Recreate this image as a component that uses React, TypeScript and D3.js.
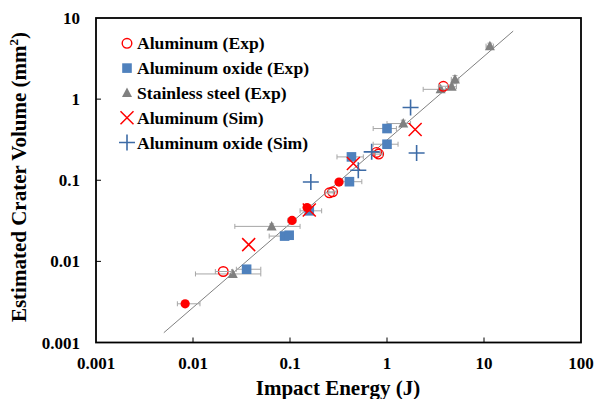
import React from 'react';
import * as d3 from 'd3';

// Aluminum (Exp) - open circles
const alExpX = [0.0205, 0.255, 0.275, 0.78, 0.82, 3.81];
const alExpY = [0.0075, 0.070, 0.072, 0.22, 0.21, 1.44];
const alExpLo = [0.017, 0.23, 0.25, 0.72, 0.76, 3.4];
const alExpHi = [0.025, 0.28, 0.30, 0.85, 0.9, 4.2];

// aluminum filled dots (not in legend)
const alDotX = [0.0083, 0.105, 0.15, 0.32];
const alDotY = [0.0030, 0.032, 0.046, 0.095];
const alDotLo = [0.0069, 0.095, 0.14, 0.3];
const alDotHi = [0.0118, 0.115, 0.16, 0.34];

// Aluminum oxide (Exp) - squares
const oxExpX = [0.0357, 0.088, 0.098, 0.158, 0.41, 0.43, 1.0, 1.0];
const oxExpY = [0.0080, 0.0205, 0.021, 0.042, 0.096, 0.194, 0.278, 0.434];
const oxExpLo = [0.028, 0.061, 0.09, 0.127, 0.35, 0.305, 0.72, 0.72];
const oxExpHi = [0.050, 0.107, 0.105, 0.212, 0.55, 0.57, 1.3, 1.25];

// Stainless steel (Exp) - triangles
const ssExpX = [0.0257, 0.0647, 1.47, 3.57, 4.64, 5.02, 11.5];
const ssExpY = [0.0070, 0.027, 0.50, 1.32, 1.42, 1.75, 4.5];
const ssExpLo = [0.0106, 0.027, 1.0, 2.36, 4.2, 4.6, 10.5];
const ssExpHi = [0.050, 0.127, 1.75, 4.0, 5.2, 5.5, 12.5];
const ssExpYLo = [0.0066, 0.025, 0.46, 1.25, 1.33, 1.55, 4.1];
const ssExpYHi = [0.0075, 0.029, 0.55, 1.4, 1.5, 1.95, 4.9];

// Aluminum (Sim) - x marks
const alSimX = [0.0375, 0.158, 0.45, 1.95];
const alSimY = [0.0161, 0.043, 0.161, 0.423];

// Aluminum oxide (Sim) - plus marks
const oxSimX = [0.164, 0.506, 0.695, 1.75, 2.02];
const oxSimY = [0.0953, 0.133, 0.224, 0.788, 0.217];

// trend line end points
const fitX = [0.005, 20];
const fitY = [0.00132, 6.9];

const xTicks = [0.001, 0.01, 0.1, 1, 10, 100];
const yTicks = [0.001, 0.01, 0.1, 1, 10];
const tickText = ['0.001', '0.01', '0.1', '1', '10', '100'];

const legendNames = ['Aluminum (Exp)', 'Aluminum oxide (Exp)', 'Stainless steel (Exp)', 'Aluminum (Sim)', 'Aluminum oxide (Sim)'];

const RED = '#FF0000';
const BLUE = '#4F81BD';
const PLUS = '#3D6BA6';
const GREY = '#808080';
const BAR = '#A6A6A6';

const W = 594, H = 399;
const left = 96, right = 581, top = 18, bottom = 342.5;
const font = '"Liberation Serif", "Times New Roman", serif';

const Marker = ({ kind, x, y }: { kind: number; x: number; y: number }) => {
  if (kind === 0) return <circle cx={x} cy={y} r={4.8} fill="none" stroke={RED} strokeWidth={1.4} />;
  if (kind === 1) return <rect x={x - 4.8} y={y - 4.8} width={9.6} height={9.6} fill={BLUE} />;
  if (kind === 2) return <path d={`M${x},${y - 5.5}L${x + 5},${y + 4}L${x - 5},${y + 4}Z`} fill={GREY} />;
  if (kind === 3) {
    const s = 6.5;
    return <path d={`M${x - s},${y - s}L${x + s},${y + s}M${x - s},${y + s}L${x + s},${y - s}`} stroke={RED} strokeWidth={1.5} />;
  }
  if (kind === 4) {
    const s = 8;
    return <path d={`M${x - s},${y}L${x + s},${y}M${x},${y - s}L${x},${y + s}`} stroke={PLUS} strokeWidth={1.6} />;
  }
  return <circle cx={x} cy={y} r={4.6} fill={RED} />;
};

export default function App() {
  const x = d3.scaleLog().domain([0.001, 100]).range([left, right]);
  const y = d3.scaleLog().domain([0.001, 10]).range([bottom, top]);

  const hBars = (xs: number[], ys: number[], lo: number[], hi: number[], key: string) =>
    xs.map((_, i) => {
      const yy = y(ys[i]);
      return (
        <g key={key + i} stroke={BAR} strokeWidth={1}>
          <line x1={x(lo[i])} x2={x(hi[i])} y1={yy} y2={yy} />
          <line x1={x(lo[i])} x2={x(lo[i])} y1={yy - 2.5} y2={yy + 2.5} />
          <line x1={x(hi[i])} x2={x(hi[i])} y1={yy - 2.5} y2={yy + 2.5} />
        </g>
      );
    });

  const vBars = (xs: number[], lo: number[], hi: number[], key: string) =>
    xs.map((_, i) => {
      const xx = x(xs[i]);
      return (
        <g key={key + i} stroke={BAR} strokeWidth={1}>
          <line x1={xx} x2={xx} y1={y(lo[i])} y2={y(hi[i])} />
          <line x1={xx - 2.5} x2={xx + 2.5} y1={y(lo[i])} y2={y(lo[i])} />
          <line x1={xx - 2.5} x2={xx + 2.5} y1={y(hi[i])} y2={y(hi[i])} />
        </g>
      );
    });

  const pts = (xs: number[], ys: number[], kind: number, key: string) =>
    xs.map((v, i) => <Marker key={key + i} kind={kind} x={x(v)} y={y(ys[i])} />);

  const line = d3.line<number>().x((d) => x(d)).y((_, i) => y(fitY[i]));

  return (
    <svg width={W} height={H} style={{ position: 'absolute', left: 0, top: 0, background: '#fff' }} fontFamily={font}>
      <rect width={W} height={H} fill="#fff" />
      {/* ticks */}
      {xTicks.slice(1, -1).map((t) => (
        <line key={'xt' + t} x1={x(t)} x2={x(t)} y1={bottom} y2={bottom - 5} stroke="#000" strokeWidth={1} />
      ))}
      {yTicks.slice(1, -1).map((t) => (
        <line key={'yt' + t} x1={left} x2={left + 5} y1={y(t)} y2={y(t)} stroke="#000" strokeWidth={1} />
      ))}
      {/* fit line */}
      <path d={line(fitX) || ''} fill="none" stroke={GREY} strokeWidth={1} />
      {/* error bars */}
      {hBars(ssExpX, ssExpY, ssExpLo, ssExpHi, 'sb')}
      {vBars(ssExpX, ssExpYLo, ssExpYHi, 'sv')}
      {hBars(oxExpX, oxExpY, oxExpLo, oxExpHi, 'ob')}
      {hBars(alDotX, alDotY, alDotLo, alDotHi, 'db')}
      {/* markers */}
      {pts(ssExpX, ssExpY, 2, 'ss')}
      {pts(oxExpX, oxExpY, 1, 'ox')}
      {pts(alDotX, alDotY, 5, 'ad')}
      {pts(alExpX, alExpY, 0, 'ae')}
      {hBars(alExpX, alExpY, alExpLo, alExpHi, 'ab')}
      {pts(alSimX, alSimY, 3, 'as')}
      {pts(oxSimX, oxSimY, 4, 'os')}
      {/* frame */}
      <rect x={left} y={top} width={right - left} height={bottom - top} fill="none" stroke="#000" strokeWidth={1.8} />
      {/* tick labels */}
      {xTicks.map((t, i) => (
        <text key={'xl' + t} x={x(t)} y={369} textAnchor="middle" fontSize={17} fontWeight="bold">
          {tickText[i]}
        </text>
      ))}
      {yTicks.map((t, i) => (
        <text key={'yl' + t} x={80} y={y(t) + 6} textAnchor="end" fontSize={17} fontWeight="bold">
          {tickText[i]}
        </text>
      ))}
      {/* axis titles */}
      <text x={338} y={395} textAnchor="middle" fontSize={21} fontWeight="bold">
        Impact Energy (J)
      </text>
      <text transform="translate(26,177) rotate(-90)" textAnchor="middle" fontSize={21} fontWeight="bold">
        Estimated Crater Volume (mm<tspan dy={-8} fontSize={13}>2</tspan>
        <tspan dy={8}>)</tspan>
      </text>
      {/* legend */}
      {legendNames.map((n, i) => {
        const ly = 43.3 + i * 24.8;
        return (
          <g key={'lg' + i}>
            <Marker kind={i} x={127} y={ly} />
            <text x={137} y={ly + 6} fontSize={17.6} fontWeight="bold">
              {n}
            </text>
          </g>
        );
      })}
    </svg>
  );
}
